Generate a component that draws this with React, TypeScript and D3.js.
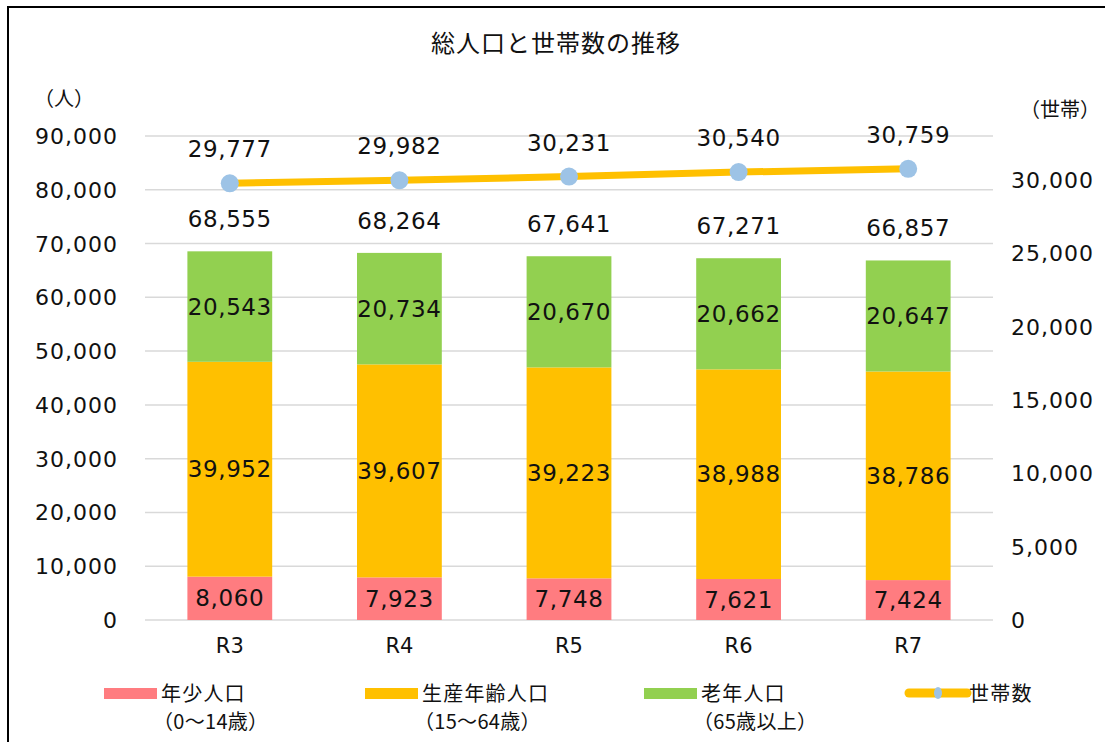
import React from "react";
import * as d3 from "d3";

const categories = ["R3", "R4", "R5", "R6", "R7"];
const young = [8060, 7923, 7748, 7621, 7424];
const working = [39952, 39607, 39223, 38988, 38786];
const old = [20543, 20734, 20670, 20662, 20647];
const totals = [68555, 68264, 67641, 67271, 66857];
const households = [29777, 29982, 30231, 30540, 30759];
const leftTicks = [0, 10000, 20000, 30000, 40000, 50000, 60000, 70000, 80000, 90000];
const rightTicks = [0, 5000, 10000, 15000, 20000, 25000, 30000];

const seriesNames = ["年少人口", "生産年齢人口", "老年人口"];
const seriesSub = ["（0～14歳）", "（15～64歳）", "（65歳以上）"];
const lineName = "世帯数";
const colors = ["#FF7C80", "#FFC000", "#92D050"];
const lineColor = "#FFC000";
const markerColor = "#9DC3E6";

const W = 1105;
const H = 742;
const NUM_FONT = "'DejaVu Sans', Verdana, sans-serif";
const JP_FONT = "'Noto Sans CJK JP', 'Noto Sans', sans-serif";
const fmt = d3.format(",");

export default function App() {
  const x = d3.scaleBand<string>().domain(categories).range([145, 993]).paddingInner(0.5).paddingOuter(0.25);
  const yL = d3.scaleLinear().domain([0, 90000]).range([620, 136]);
  const yR = d3.scaleLinear().domain([0, 33000]).range([620, 136]);
  const series = [young, working, old];

  const stacks = categories.map((c, i) => {
    let acc = 0;
    return series.map((s, k) => {
      const y0 = acc;
      acc += s[i];
      return { k, y0, y1: acc, v: s[i] };
    });
  });

  const line = d3
    .line<number>()
    .x((_, i) => (x(categories[i]) as number) + x.bandwidth() / 2)
    .y((d) => yR(d));

  const legendX = [104, 365, 644];
  const textColor = "#111";

  return (
    <svg width={W} height={H} style={{ position: "absolute", left: 0, top: 0, background: "#fff" }}>
      <rect x={0} y={0} width={W} height={H} fill="#fff" />
      <rect x={8} y={7} width={1300} height={900} fill="none" stroke="#000" strokeWidth={2} />
      <text x={556} y={52} textAnchor="middle" fontFamily={JP_FONT} fontSize={24} letterSpacing={1} fill={textColor}>
        総人口と世帯数の推移
      </text>
      <text x={34} y={106} fontFamily={JP_FONT} fontSize={20} fill={textColor}>
        （人）
      </text>
      <text x={1020} y={117} fontFamily={JP_FONT} fontSize={20} fill={textColor}>
        （世帯）
      </text>

      {leftTicks.map((t) => (
        <g key={"g" + t}>
          <line x1={145} x2={993} y1={yL(t)} y2={yL(t)} stroke="#d9d9d9" strokeWidth={1.5} />
          <text x={118} y={yL(t) + 8} textAnchor="end" fontFamily={NUM_FONT} fontSize={22} letterSpacing={1} fill={textColor}>
            {fmt(t)}
          </text>
        </g>
      ))}
      {rightTicks.map((t) => (
        <text key={"r" + t} x={1011} y={yR(t) + 8} textAnchor="start" fontFamily={NUM_FONT} fontSize={22} letterSpacing={1} fill={textColor}>
          {fmt(t)}
        </text>
      ))}

      {categories.map((c, i) => {
        const bx = x(c) as number;
        const bw = x.bandwidth();
        const cx = bx + bw / 2;
        return (
          <g key={c}>
            {stacks[i].map((s) => (
              <rect key={s.k} x={bx} y={yL(s.y1)} width={bw} height={yL(s.y0) - yL(s.y1)} fill={colors[s.k]} />
            ))}
            {stacks[i].map((s) => (
              <text key={"l" + s.k} x={cx} y={(yL(s.y0) + yL(s.y1)) / 2 + 8} textAnchor="middle" fontFamily={NUM_FONT} fontSize={23} letterSpacing={0.6} fill={textColor}>
                {fmt(s.v)}
              </text>
            ))}
            <text x={cx} y={yL(totals[i]) - 24} textAnchor="middle" fontFamily={NUM_FONT} fontSize={23} letterSpacing={0.6} fill={textColor}>
              {fmt(totals[i])}
            </text>
            <text x={cx} y={653} textAnchor="middle" fontFamily={NUM_FONT} fontSize={21} fill={textColor}>
              {c}
            </text>
          </g>
        );
      })}

      <path d={line(households) as string} fill="none" stroke={lineColor} strokeWidth={7} />
      {households.map((h, i) => {
        const cx = (x(categories[i]) as number) + x.bandwidth() / 2;
        return (
          <g key={"h" + i}>
            <circle cx={cx} cy={yR(h)} r={9} fill={markerColor} />
            <text x={cx} y={yR(h) - 26} textAnchor="middle" fontFamily={NUM_FONT} fontSize={23} letterSpacing={0.6} fill={textColor}>
              {fmt(h)}
            </text>
          </g>
        );
      })}

      {seriesNames.map((n, k) => (
        <g key={n}>
          <rect x={legendX[k]} y={688} width={53} height={11} fill={colors[k]} />
          <text x={legendX[k] + 57} y={701} fontFamily={JP_FONT} fontSize={20} letterSpacing={1.2} fill={textColor}>
            {n}
          </text>
          <text x={legendX[k] + 49} y={729} fontFamily={JP_FONT} fontSize={20} letterSpacing={0.3} fill={textColor}>
            {seriesSub[k]}
          </text>
        </g>
      ))}
      <line x1={909} x2={967} y1={693} y2={693} stroke={lineColor} strokeWidth={9} strokeLinecap="round" />
      <ellipse cx={938} cy={693} rx={4} ry={6} fill={markerColor} />
      <text x={969} y={701} fontFamily={JP_FONT} fontSize={20} letterSpacing={1.2} fill={textColor}>
        {lineName}
      </text>
    </svg>
  );
}
